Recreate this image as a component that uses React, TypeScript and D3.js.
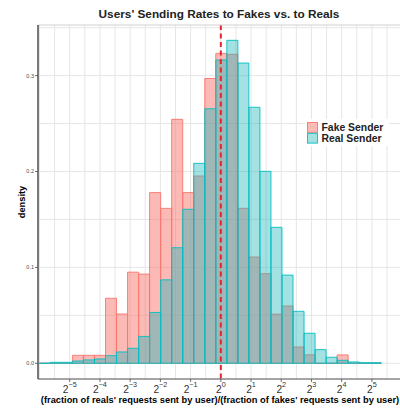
import React from 'react';
import * as d3 from 'd3';

// bin index k: bin centre = binOffset + k * binWidth (log2 units)
const binIndex = d3.range(-16, 15);
const binWidth = 0.365;
const binOffset = 0.0166;

const fakeDensity = [
  0, 0, 0, 0.0083, 0.0083, 0.0083, 0.0678, 0.0514, 0.095, 0.093,
  0.178, 0.1616, 0.2544, 0.178, 0.1953, 0.297, 0.3232, 0.3222, 0.1616, 0.1108,
  0.0934, 0.0512, 0.0597, 0.017, 0.0088, 0, 0, 0.0087, 0, 0, 0,
];
const realDensity = [
  0, 0.001, 0.001, 0.0024, 0.0035, 0.0045, 0.0079, 0.0118, 0.0156, 0.028,
  0.053, 0.087, 0.1205, 0.1606, 0.2085, 0.2655, 0.3163, 0.3368, 0.3131, 0.267,
  0.2002, 0.1418, 0.092, 0.0542, 0.0313, 0.0142, 0.0063, 0.0031, 0.0014, 0.0006, 0.0006,
];

const xTickPowers = [-5, -4, -3, -2, -1, 0, 1, 2, 3, 4, 5];
const yTicks = [0, 0.1, 0.2, 0.3];
const seriesNames = ['Fake Sender', 'Real Sender'];

const FAKE = '#F8766D';
const REAL = '#00BFC4';
const FONT = '"Liberation Sans", Arial, Helvetica, sans-serif';

const W = 400;
const H = 408;
const panel = { left: 38, right: 400, top: 25, bottom: 379 };

const App = () => {
  const x = d3.scaleLinear().domain([-6.05, 5.93]).range([panel.left, panel.right]);
  const y = d3.scaleLinear().domain([-0.0164, 0.3528]).range([panel.bottom, panel.top]);

  const majorX = xTickPowers;
  const minorX = d3.range(-6, 6.01, 0.5).filter((v) => !majorX.includes(v));
  const minorY = [0.05, 0.15, 0.25, 0.35];

  const barPath = (k: number, v: number) => {
    const x0 = x(binOffset + (k - 0.5) * binWidth);
    const x1 = x(binOffset + (k + 0.5) * binWidth);
    const y0 = y(0);
    const y1 = y(v);
    return `M${x0},${y0}V${y1}H${x1}V${y0}Z`;
  };

  const fmt = d3.format('.1f');

  return (
    <svg width={W} height={H} style={{ position: 'absolute', left: 0, top: 0, background: '#fff' }} fontFamily={FONT}>
      <defs>
        <clipPath id="panel-clip">
          <rect x={panel.left} y={panel.top} width={panel.right - panel.left} height={panel.bottom - panel.top} />
        </clipPath>
      </defs>

      {/* grid */}
      <g clipPath="url(#panel-clip)" stroke="#e6e6e6" strokeWidth={1}>
        {minorX.concat(majorX).map((v) => (
          <line key={'gx' + v} x1={x(v)} x2={x(v)} y1={panel.top} y2={panel.bottom} />
        ))}
        {minorY.concat(yTicks).map((v) => (
          <line key={'gy' + v} x1={panel.left} x2={panel.right} y1={y(v)} y2={y(v)} />
        ))}
      </g>

      {/* histograms */}
      <g clipPath="url(#panel-clip)">
        {binIndex.map((k, i) => (
          <path key={'f' + k} d={barPath(k, fakeDensity[i])} fill={FAKE} fillOpacity={0.5} stroke={FAKE} strokeWidth={0.9} />
        ))}
        {binIndex.map((k, i) => (
          <path key={'r' + k} d={barPath(k, realDensity[i])} fill="#1cb4ba" fillOpacity={0.4} stroke={REAL} strokeWidth={0.9} />
        ))}
        <line x1={x(0)} x2={x(0)} y1={panel.top} y2={panel.bottom} stroke="#e3262c" strokeWidth={2} strokeDasharray="5,3.5" />
      </g>

      {/* panel lines */}
      <line x1={panel.left} x2={panel.right} y1={panel.top} y2={panel.top} stroke="#d0d0d0" strokeWidth={1} />
      <line x1={panel.left} x2={panel.left} y1={panel.top} y2={panel.bottom} stroke="#4d4d4d" strokeWidth={1.5} />
      <line x1={panel.left} x2={panel.right} y1={panel.bottom} y2={panel.bottom} stroke="#4d4d4d" strokeWidth={1.2} />

      {/* y axis */}
      {yTicks.map((v) => (
        <g key={'yt' + v}>
          <line x1={panel.left - 3} x2={panel.left} y1={y(v)} y2={y(v)} stroke="#4d4d4d" strokeWidth={0.8} />
          <text x={panel.left - 4} y={y(v)} dy="0.35em" textAnchor="end" fontSize={5.5} fill="#4d4d4d">
            {fmt(v)}
          </text>
        </g>
      ))}
      <text transform={`translate(25,${(panel.top + panel.bottom) / 2}) rotate(-90)`} textAnchor="middle" fontSize={9.3} fontWeight="bold" fill="#000">
        density
      </text>

      {/* x axis */}
      {xTickPowers.map((p) => (
        <g key={'xt' + p}>
          <line x1={x(p)} x2={x(p)} y1={panel.bottom} y2={panel.bottom + 3} stroke="#4d4d4d" strokeWidth={0.8} />
          <text x={x(p)} y={393} textAnchor="middle" fill="#333">
            <tspan fontSize={10.2}>2</tspan>
            <tspan fontSize={7.2} dy={-5.6}>{p < 0 ? '\u2212' + Math.abs(p) : String(p)}</tspan>
          </text>
        </g>
      ))}
      <text x={220} y={402.5} textAnchor="middle" fontSize={9.3} fontWeight="bold" fill="#000">
        (fraction of reals' requests sent by user)/(fraction of fakes' requests sent by user)
      </text>

      {/* title */}
      <text x={219} y={18.3} textAnchor="middle" fontSize={11.8} fontWeight="bold" fill="#222">
        Users' Sending Rates to Fakes vs. to Reals
      </text>

      {/* legend */}
      <g>
        <rect x={305} y={119} width={84} height={27} fill="#fff" />
        {seriesNames.map((name, i) => {
          const c = i === 0 ? FAKE : REAL;
          const fillC = i === 0 ? FAKE : '#1cb4ba';
          const op = i === 0 ? 0.5 : 0.4;
          const ky = 122 + i * 10.8;
          return (
            <g key={name}>
              <rect x={307.5} y={ky + 0.5} width={10} height={9.8} fill={fillC} fillOpacity={op} stroke={c} strokeWidth={0.9} />
              <text x={321.5} y={ky + 5.4} dy="0.36em" fontSize={10.4} fontWeight="bold" fill="#222">
                {name}
              </text>
            </g>
          );
        })}
      </g>
    </svg>
  );
};

export default App;
